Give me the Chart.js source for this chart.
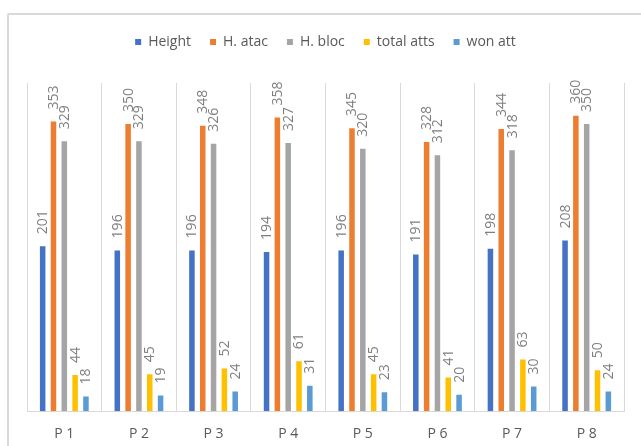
<!DOCTYPE html>
<html>
<head>
<meta charset="utf-8">
<script src="https://cdn.jsdelivr.net/npm/chart.js@4.4.0/dist/chart.umd.min.js"></script>
<style>
  html, body { margin: 0; padding: 0; background: #fff; }
  #wrap { position: relative; width: 641px; height: 446px; overflow: hidden; }
  #frame { position: absolute; left: 7px; top: 13px; width: 640px; height: 440px; border: 2px solid #d9d9d9; box-sizing: border-box; border-radius: 2px; }
  canvas { position: absolute; left: 0; top: 0; }
</style>
</head>
<body>
<div id="wrap">
  <div id="frame"></div>
  <canvas id="c" width="641" height="446"></canvas>
</div>
<script>
const categories = ['P 1', 'P 2', 'P 3', 'P 4', 'P 5', 'P 6', 'P 7', 'P 8'];
const seriesNames = ['Height', 'H. atac', 'H. bloc', 'total atts', 'won att'];
const height = [201, 196, 196, 194, 196, 191, 198, 208];
const hAtac = [353, 350, 348, 358, 345, 328, 344, 360];
const hBloc = [329, 329, 326, 327, 320, 312, 318, 350];
const totalAtts = [44, 45, 52, 61, 45, 41, 63, 50];
const wonAtt = [18, 19, 24, 31, 23, 20, 30, 24];

const colors = ['#4472C4', '#ED7D31', '#A5A5A5', '#FFC000', '#5B9BD5'];
const seriesValues = [height, hAtac, hBloc, totalAtts, wonAtt];

const FONT = "'Open Sans', 'DejaVu Sans', sans-serif";

const valueLabels = {
  id: 'valueLabels',
  afterDatasetsDraw(chart) {
    const ctx = chart.ctx;
    ctx.save();
    ctx.font = '14px ' + FONT;
    ctx.fillStyle = '#7f7f7f';
    ctx.textAlign = 'left';
    ctx.textBaseline = 'middle';
    chart.data.datasets.forEach((ds, di) => {
      const meta = chart.getDatasetMeta(di);
      meta.data.forEach((bar, i) => {
        ctx.save();
        ctx.translate(bar.x + 0.5, bar.y - 12);
        ctx.rotate(-Math.PI / 2);
        ctx.fillText(String(ds.data[i]), 0, 0);
        ctx.restore();
      });
    });
    ctx.restore();
  }
};

new Chart(document.getElementById('c'), {
  type: 'bar',
  data: {
    labels: categories,
    datasets: seriesNames.map((name, k) => ({
      label: name,
      data: seriesValues[k],
      backgroundColor: colors[k],
      borderWidth: 0,
      categoryPercentage: 0.725,
      barPercentage: 0.51
    }))
  },
  options: {
    responsive: false,
    animation: false,
    devicePixelRatio: 1,
    layout: { padding: { left: 27, right: 17, top: 16, bottom: -10 } },
    plugins: {
      legend: {
        position: 'top',
        labels: {
          boxWidth: 6,
          boxHeight: 6,
          padding: 19,
          color: '#595959',
          font: { family: FONT, size: 14 }
        }
      },
      title: {
        display: true,
        text: '',
        weight: 500,
        padding: 0,
        font: { size: 20, lineHeight: 1.2 }
      },
      tooltip: { enabled: false }
    },
    scales: {
      x: {
        offset: true,
        grid: { display: true, color: '#d9d9d9', lineWidth: 1, drawTicks: false, offset: true },
        border: { display: true, color: '#d9d9d9', width: 1 },
        ticks: { color: '#595959', font: { family: FONT, size: 14 }, padding: 14 }
      },
      y: {
        display: false,
        min: 0,
        max: 400
      }
    }
  },
  plugins: [valueLabels]
});
</script>
</body>
</html>
